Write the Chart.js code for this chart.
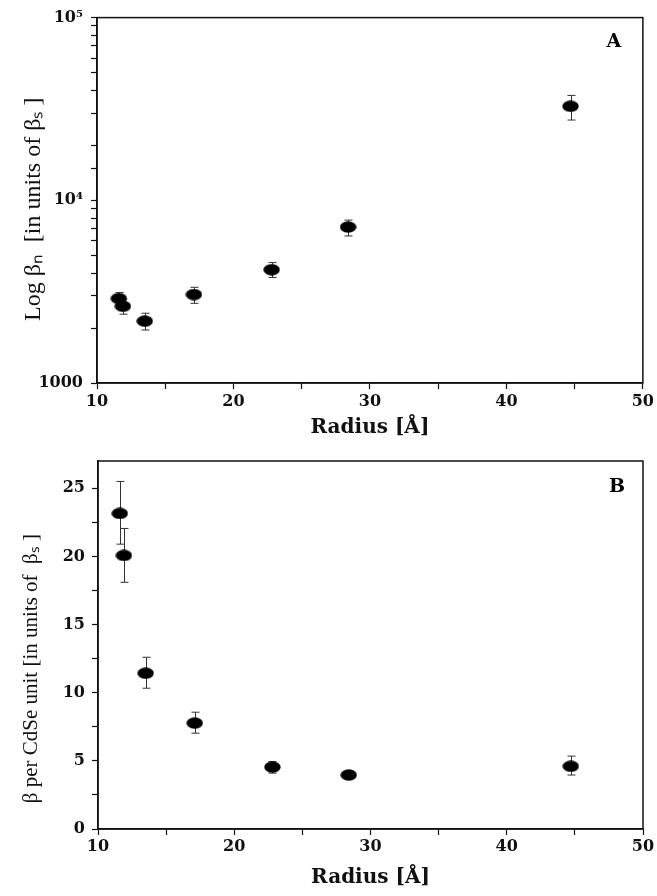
<!DOCTYPE html>
<html>
<head>
<meta charset="utf-8">
<script src="https://cdn.jsdelivr.net/npm/chart.js@4.4.1/dist/chart.umd.min.js"></script>
<style>
  html, body { margin: 0; padding: 0; background: #fff; }
  canvas { display: block; }
</style>
</head>
<body>
<canvas id="chartA" width="657" height="440" style="width:657px;height:440px"></canvas>
<canvas id="chartB" width="657" height="456" style="width:657px;height:456px"></canvas>
<script>
// Datos
const radius = [11.6, 11.9, 13.5, 17.1, 22.8, 28.4, 44.7];

// Panel A: beta_n (escala log)
const betaN = [2900, 2630, 2180, 3050, 4170, 7140, 32700];
const betaNLow = [2680, 2380, 1950, 2730, 3780, 6380, 27500];
const betaNHigh = [3130, 2880, 2410, 3340, 4560, 7790, 37500];

// Panel B: beta por unidad CdSe
const betaUnit = [23.15, 20.07, 11.43, 7.77, 4.54, 3.96, 4.6];
const betaUnitLow = [20.9, 18.1, 10.33, 7.03, 4.1, 3.7, 3.96];
const betaUnitHigh = [25.5, 22.05, 12.6, 8.57, 4.95, 4.25, 5.35];

const xLabels = [10, 20, 30, 40, 50];
const logLabels = {1000: "1000", 10000: "10\u2074", 100000: "10\u2075"};
const linLabels = [0, 5, 10, 15, 20, 25];

const INK = "#111";

// marcador eliptico
const dot = document.createElement("canvas");
dot.width = 17;
dot.height = 12;
const dctx = dot.getContext("2d");
dctx.fillStyle = "#000";
dctx.beginPath();
dctx.ellipse(8.5, 6, 8.2, 5.8, 0, 0, Math.PI * 2);
dctx.fill();

// barras de error
const errorBars = {
  id: "errorBars",
  beforeDatasetsDraw(chart) {
    const {ctx, scales: {x, y}} = chart;
    ctx.save();
    ctx.strokeStyle = "#333";
    ctx.lineWidth = 1;
    chart.data.datasets[0].data.forEach(p => {
      const px = Math.round(x.getPixelForValue(p.x)) + 0.5;
      const top = y.getPixelForValue(p.hi);
      const bot = y.getPixelForValue(p.lo);
      ctx.beginPath();
      ctx.moveTo(px, top); ctx.lineTo(px, bot);
      ctx.moveTo(px - 4, top); ctx.lineTo(px + 4, top);
      ctx.moveTo(px - 4, bot); ctx.lineTo(px + 4, bot);
      ctx.stroke();
    });
    ctx.restore();
  }
};

// marco y letra del panel
const frame = {
  id: "frame",
  afterDraw(chart, args, opts) {
    const {ctx, chartArea: a} = chart;
    ctx.save();
    ctx.strokeStyle = INK;
    ctx.lineWidth = 1.5;
    ctx.strokeRect(a.left, a.top, a.right - a.left, a.bottom - a.top);
    ctx.fillStyle = "#000";
    ctx.font = "bold 19px 'DejaVu Serif'";
    ctx.textAlign = "center";
    ctx.textBaseline = "middle";
    ctx.fillText(opts.label, a.right - opts.dx, a.top + opts.dy);
    ctx.restore();
  }
};

function makeChart(id, cfg) {
  const points = radius.map((r, i) => ({x: r, y: cfg.values[i], lo: cfg.low[i], hi: cfg.high[i]}));
  return new Chart(document.getElementById(id), {
    type: "scatter",
    data: {
      datasets: [{
        data: points,
        pointStyle: dot,
        pointRadius: 6,
        showLine: false
      }]
    },
    options: {
      responsive: false,
      animation: false,
      layout: {padding: cfg.padding},
      plugins: {
        legend: {display: false},
        tooltip: {enabled: false},
        frame: {label: cfg.label, dx: cfg.labelDx, dy: cfg.labelDy}
      },
      scales: {
        x: {
          type: "linear",
          min: 10,
          max: 50,
          afterFit: s => { s.height = cfg.xHeight; },
          border: {display: true, color: INK, width: 1.5},
          grid: {drawOnChartArea: false, drawTicks: true, tickLength: 6, color: INK, tickWidth: 1.2},
          ticks: {
            stepSize: 5,
            maxRotation: 0,
            autoSkip: false,
            padding: cfg.xPad,
            color: INK,
            font: {family: "DejaVu Serif", weight: "bold", size: 16},
            callback: v => xLabels.includes(v) ? String(v) : ""
          },
          title: {
            display: true,
            text: "Radius [\u00C5]",
            color: INK,
            font: {family: "DejaVu Serif", weight: "bold", size: 20},
            padding: 0
          }
        },
        y: cfg.yScale
      }
    },
    plugins: [errorBars, frame]
  });
}

makeChart("chartA", {
  values: betaN, low: betaNLow, high: betaNHigh,
  padding: {top: 14, right: 14, left: 19, bottom: 0},
  xHeight: 57, xPad: 3,
  label: "A", labelDx: 29, labelDy: 24,
  yScale: {
    type: "logarithmic",
    min: 1000,
    max: 100000,
    afterFit: s => { s.width = 78; },
    border: {display: true, color: INK, width: 1.5},
    grid: {drawOnChartArea: false, drawTicks: true, tickLength: 6, color: INK, tickWidth: 1.2},
    ticks: {
      autoSkip: false,
      padding: 8,
      color: INK,
      font: {family: "DejaVu Serif", weight: "bold", size: 16},
      callback: v => logLabels[v] || ""
    },
    title: {
      display: true,
      text: "Log \u03B2\u2099  [in units of \u03B2\u209B ]   ",
      color: INK,
      font: {family: "Liberation Serif", size: 24},
      padding: 0
    }
  }
});

makeChart("chartB", {
  values: betaUnit, low: betaUnitLow, high: betaUnitHigh,
  padding: {top: 21, right: 14, left: 19, bottom: 6},
  xHeight: 61, xPad: 2,
  label: "B", labelDx: 26, labelDy: 26,
  yScale: {
    type: "linear",
    min: 0,
    max: 27,
    afterFit: s => { s.width = 79; },
    border: {display: true, color: INK, width: 1.5},
    grid: {drawOnChartArea: false, drawTicks: true, tickLength: 6, color: INK, tickWidth: 1.2},
    ticks: {
      stepSize: 2.5,
      includeBounds: false,
      autoSkip: false,
      padding: 7,
      color: INK,
      font: {family: "DejaVu Serif", weight: "bold", size: 16},
      callback: v => linLabels.includes(v) ? String(v) : ""
    },
    title: {
      display: true,
      text: "\u03B2 per CdSe unit [in units of  \u03B2\u209B ]         ",
      color: INK,
      font: {family: "Liberation Serif", size: 21},
      padding: 0
    }
  }
});
</script>
</body>
</html>
